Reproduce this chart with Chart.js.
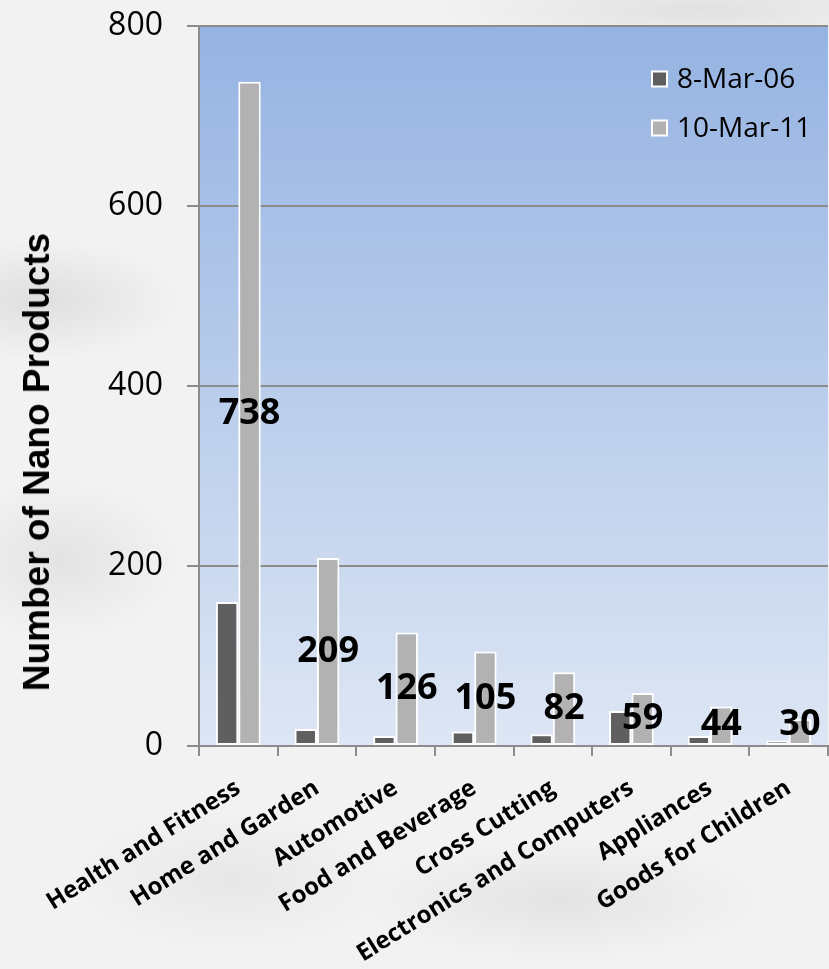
<!DOCTYPE html>
<html>
<head>
<meta charset="utf-8">
<title>Nano Products by Category</title>
<script src="https://cdn.jsdelivr.net/npm/chart.js@4.4.1/dist/chart.umd.min.js"></script>
<style>
  html, body { margin: 0; padding: 0; }
  body {
    width: 829px;
    height: 969px;
    overflow: hidden;
    background:
      radial-gradient(ellipse 140px 60px at 40px 300px, rgba(200,200,200,0.45), transparent),
      radial-gradient(ellipse 120px 80px at 60px 560px, rgba(205,205,205,0.40), transparent),
      radial-gradient(ellipse 200px 60px at 560px 900px, rgba(210,210,210,0.45), transparent),
      radial-gradient(ellipse 160px 70px at 230px 880px, rgba(215,215,215,0.40), transparent),
      radial-gradient(ellipse 260px 40px at 700px 10px, rgba(205,205,205,0.45), transparent),
      #f2f2f2;
  }
  #wrap { position: relative; width: 829px; height: 969px; }
  #yTitle {
    position: absolute;
    left: 37px;
    top: 462px;
    transform: translate(-50%, -50%) rotate(-90deg);
    white-space: nowrap;
    font: bold 37px "Liberation Sans", Arial, sans-serif;
    color: #000;
  }
</style>
</head>
<body>
<div id="wrap">
  <canvas id="nanoChart" width="829" height="969"></canvas>
  <div id="yTitle">Number of Nano Products</div>
</div>
<script>
// categories and counts per inventory date
const categories = [
  'Health and Fitness', 'Home and Garden', 'Automotive', 'Food and Beverage',
  'Cross Cutting', 'Electronics and Computers', 'Appliances', 'Goods for Children'
];
const seriesNames = ['8-Mar-06', '10-Mar-11'];
const counts2006 = [160, 19, 11, 16, 13, 39, 11, 6];
const counts2011 = [738, 209, 126, 105, 82, 59, 44, 30];
const yTicks = [0, 200, 400, 600, 800];

const barColors = ['#5f5f5f', '#b2b2b2'];

// blue gradient behind the bars
const plotBackground = {
  id: 'plotBackground',
  beforeDraw(chart) {
    const { ctx, chartArea: a } = chart;
    const g = ctx.createLinearGradient(0, a.top, 0, a.bottom);
    g.addColorStop(0, '#95b3e2');
    g.addColorStop(1, '#dde6f4');
    ctx.save();
    ctx.fillStyle = g;
    ctx.fillRect(a.left, a.top, a.right - a.left, a.bottom - a.top);
    ctx.restore();
  }
};

// value labels centred in the 2011 bars
const centerLabels = {
  id: 'centerLabels',
  afterDatasetsDraw(chart) {
    const { ctx } = chart;
    const meta = chart.getDatasetMeta(1);
    const data = chart.data.datasets[1].data;
    ctx.save();
    ctx.font = 'bold 36px "Open Sans", sans-serif';
    ctx.fillStyle = '#000';
    ctx.textAlign = 'center';
    ctx.textBaseline = 'middle';
    meta.data.forEach((bar, i) => {
      let y = (bar.y + bar.base) / 2;
      y = Math.min(y, bar.base - 20);
      ctx.fillText(String(data[i]), bar.x, y);
    });
    ctx.restore();
  }
};

// legend inside the plot, top right
const insideLegend = {
  id: 'insideLegend',
  afterDraw(chart) {
    const { ctx } = chart;
    const x = 651, y0 = chart.chartArea.top + 53, step = 49, box = 17;
    ctx.save();
    ctx.font = '28px "Open Sans", sans-serif';
    ctx.textBaseline = 'middle';
    chart.data.datasets.forEach((ds, i) => {
      const y = y0 + i * step;
      ctx.fillStyle = '#ffffff';
      ctx.fillRect(x, y - box / 2, box, box);
      ctx.fillStyle = ds.backgroundColor;
      ctx.fillRect(x + 2, y - box / 2 + 2, box - 4, box - 4);
      ctx.fillStyle = '#000';
      ctx.fillText(ds.label, x + 26, y + 1);
    });
    ctx.restore();
  }
};

new Chart(document.getElementById('nanoChart'), {
  type: 'bar',
  data: {
    labels: categories,
    datasets: [
      {
        label: seriesNames[0],
        data: counts2006,
        backgroundColor: barColors[0],
        borderColor: '#ffffff',
        borderWidth: 2,
        borderSkipped: false,
        categoryPercentage: 0.57,
        barPercentage: 1.0
      },
      {
        label: seriesNames[1],
        data: counts2011,
        backgroundColor: barColors[1],
        borderColor: '#ffffff',
        borderWidth: 2,
        borderSkipped: false,
        categoryPercentage: 0.57,
        barPercentage: 1.0
      }
    ]
  },
  options: {
    responsive: false,
    animation: false,
    layout: { padding: { top: 26, right: 1, left: 0, bottom: 0 } },
    plugins: {
      legend: { display: false },
      tooltip: { enabled: false }
    },
    scales: {
      x: {
        grid: {
          drawOnChartArea: false,
          drawTicks: true,
          tickLength: 10,
          color: '#8c8c8c',
          lineWidth: 2
        },
        border: { color: '#8c8c8c', width: 2 },
        ticks: {
          autoSkip: false,
          minRotation: 32,
          maxRotation: 32,
          padding: 18,
          color: '#000',
          font: { family: '"Open Sans", sans-serif', size: 24, weight: 'bold' }
        },
        afterFit(scale) {
          scale.height = 223;
          scale.paddingLeft = 0;
          scale.paddingRight = 0;
        }
      },
      y: {
        min: 0,
        max: 800,
        afterBuildTicks(scale) {
          scale.ticks = yTicks.map(v => ({ value: v }));
        },
        grid: {
          color: '#8c8c8c',
          lineWidth: 2,
          tickLength: 12
        },
        border: { color: '#8c8c8c', width: 2 },
        ticks: {
          padding: 24,
          color: '#000',
          font: { family: '"Open Sans", sans-serif', size: 32 }
        },
        afterFit(scale) {
          scale.width = 199;
          scale.paddingTop = 0;
          scale.paddingBottom = 0;
        }
      }
    }
  },
  plugins: [plotBackground, centerLabels, insideLegend]
});
</script>
</body>
</html>
